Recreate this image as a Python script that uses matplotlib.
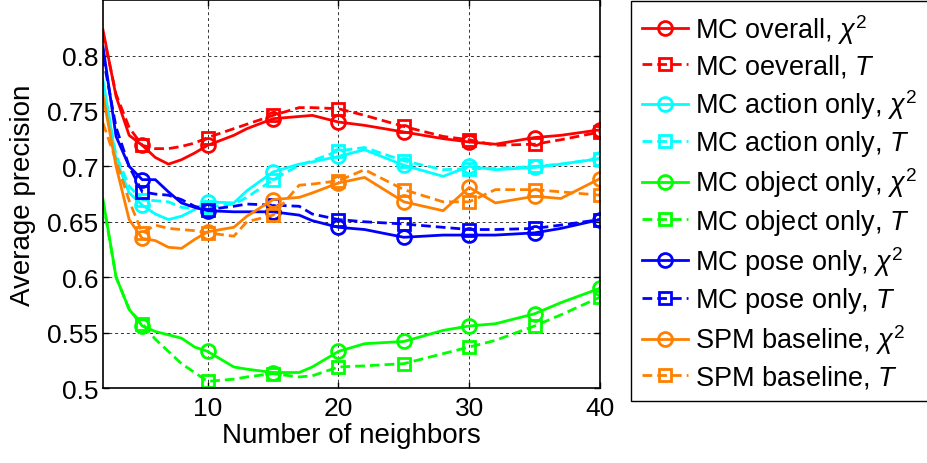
import matplotlib
matplotlib.use('Agg')
import matplotlib.pyplot as plt
from matplotlib.ticker import FormatStrFormatter

plt.rcParams['font.family'] = ['Liberation Sans', 'DejaVu Sans']
plt.rcParams['mathtext.fontset'] = 'custom'
plt.rcParams['mathtext.rm'] = 'Liberation Sans'
plt.rcParams['mathtext.it'] = 'Liberation Sans:italic'

# number of neighbors
xs = [2, 3, 4, 5, 6, 7, 8, 9, 10, 12, 13, 15, 17, 18, 20, 22, 25, 28, 30, 32, 35, 37, 40]

overall_chi = [0.823, 0.763, 0.728, 0.719, 0.708, 0.702, 0.706, 0.712, 0.719, 0.728, 0.734, 0.743,
               0.745, 0.746, 0.740, 0.737, 0.731, 0.725, 0.722, 0.720, 0.726, 0.728, 0.733]
overall_T = [0.820, 0.765, 0.735, 0.719, 0.716, 0.716, 0.718, 0.721, 0.726, 0.734, 0.738, 0.746,
             0.753, 0.753, 0.752, 0.746, 0.736, 0.727, 0.724, 0.719, 0.720, 0.724, 0.731]
action_chi = [0.778, 0.706, 0.676, 0.665, 0.657, 0.652, 0.655, 0.661, 0.668, 0.667, 0.678, 0.695,
              0.702, 0.704, 0.709, 0.715, 0.701, 0.691, 0.700, 0.697, 0.699, 0.702, 0.707]
action_T = [0.773, 0.710, 0.682, 0.670, 0.669, 0.668, 0.663, 0.662, 0.663, 0.666, 0.672, 0.688,
            0.701, 0.705, 0.714, 0.717, 0.705, 0.697, 0.698, 0.698, 0.700, 0.702, 0.707]
object_chi = [0.670, 0.600, 0.571, 0.556, 0.551, 0.548, 0.545, 0.537, 0.533, 0.519, 0.517, 0.514,
              0.514, 0.519, 0.533, 0.540, 0.542, 0.552, 0.556, 0.558, 0.567, 0.577, 0.590]
object_T = [0.668, 0.600, 0.571, 0.558, 0.544, 0.533, 0.522, 0.514, 0.506, 0.508, 0.510, 0.513,
            0.510, 0.511, 0.519, 0.520, 0.522, 0.531, 0.537, 0.543, 0.556, 0.566, 0.582]
pose_chi = [0.808, 0.727, 0.700, 0.688, 0.688, 0.677, 0.667, 0.663, 0.660, 0.659, 0.659, 0.659,
            0.656, 0.651, 0.645, 0.643, 0.636, 0.638, 0.638, 0.638, 0.640, 0.644, 0.652]
pose_T = [0.799, 0.735, 0.700, 0.677, 0.675, 0.674, 0.670, 0.664, 0.661, 0.664, 0.666, 0.665,
          0.664, 0.657, 0.652, 0.650, 0.648, 0.645, 0.643, 0.643, 0.644, 0.647, 0.652]
spm_chi = [0.764, 0.700, 0.652, 0.635, 0.633, 0.627, 0.626, 0.634, 0.641, 0.645, 0.655, 0.670,
           0.672, 0.676, 0.685, 0.690, 0.668, 0.660, 0.681, 0.667, 0.673, 0.671, 0.689]
spm_T = [0.739, 0.705, 0.669, 0.640, 0.647, 0.644, 0.643, 0.642, 0.640, 0.637, 0.650, 0.656,
         0.683, 0.684, 0.687, 0.697, 0.679, 0.668, 0.668, 0.679, 0.679, 0.677, 0.674]

series = [
    (overall_chi, r'MC overall, $\chi^2$', '#ff0000', '-', 'o'),
    (overall_T, r'MC oeverall, $T$', '#ff0000', '--', 's'),
    (action_chi, r'MC action only, $\chi^2$', '#00ffff', '-', 'o'),
    (action_T, r'MC action only, $T$', '#00ffff', '--', 's'),
    (object_chi, r'MC object only, $\chi^2$', '#00ff00', '-', 'o'),
    (object_T, r'MC object only, $T$', '#00ff00', '--', 's'),
    (pose_chi, r'MC pose only, $\chi^2$', '#0000ff', '-', 'o'),
    (pose_T, r'MC pose only, $T$', '#0000ff', '--', 's'),
    (spm_chi, r'SPM baseline, $\chi^2$', '#ff8000', '-', 'o'),
    (spm_T, r'SPM baseline, $T$', '#ff8000', '--', 's'),
]

# markers only every 5 neighbors
mark_idx = [i for i, x in enumerate(xs) if x % 5 == 0]

fig = plt.figure(figsize=(9.28, 4.64), dpi=100)
ax = fig.add_axes([0.111, 0.1616, 0.5356, 0.836])

for ys, lab, col, ls, mk in series:
    ms = 10 if mk == 'o' else 8
    ax.plot(xs, ys, color=col, linestyle=ls, linewidth=2.0, marker=mk, markersize=ms,
            markerfacecolor='none', markeredgewidth=2.0, markevery=mark_idx, label=lab,
            dashes=(3.5, 1.8) if ls == '--' else (None, None))

ax.set_xlim(2, 40)
ax.set_ylim(0.5, 0.85)
ax.set_xticks([10, 20, 30, 40])
ax.set_yticks([0.5, 0.55, 0.6, 0.65, 0.7, 0.75, 0.8])
ax.yaxis.set_major_formatter(FormatStrFormatter('%g'))
ax.tick_params(direction='in', labelsize=19, length=4, width=1, top=True, right=True)
ax.tick_params(axis='x', pad=6)
ax.grid(True, color='black', linestyle=(0, (3, 3)), linewidth=0.7, alpha=0.8)
for s in ax.spines.values():
    s.set_linewidth(1.2)
ax.set_xlabel('Number of neighbors', fontsize=20, labelpad=1)
ax.set_ylabel('Average precision', fontsize=20, labelpad=8)

leg = fig.legend(loc='upper left', bbox_to_anchor=(631 / 928, 1 - 2 / 464), fontsize=19.5,
                 handlelength=1.7, handletextpad=0.25, labelspacing=0.27, borderpad=0.4,
                 borderaxespad=0, fancybox=False, framealpha=1, edgecolor='black')
leg.get_frame().set_linewidth(1.0)

fig.savefig('out.png', dpi=100)
